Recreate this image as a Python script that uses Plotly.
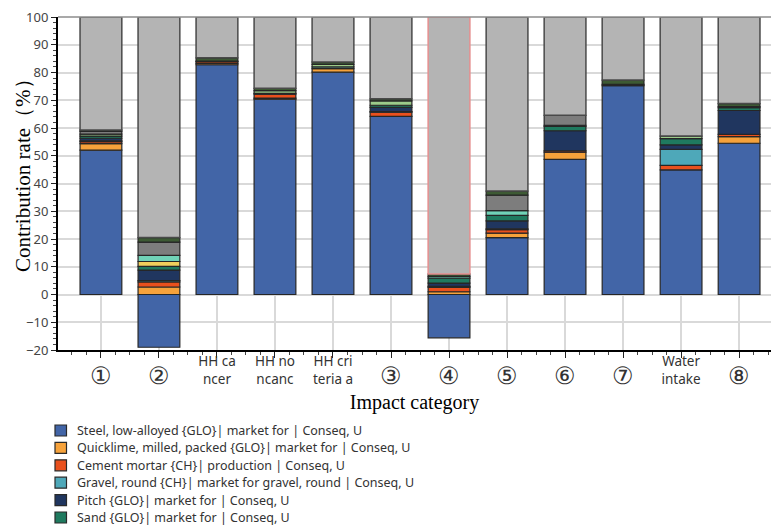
import plotly.graph_objects as go

# Impact categories (x axis)
categories = ["①", "②", "HH ca<br>ncer", "HH no<br>ncanc", "HH cri<br>teria a",
              "③", "④", "⑤", "⑥", "⑦", "Water<br>intake", "⑧"]

# Contribution rate (%) of each process to each impact category
steel      = [52.0, -19.0, 82.8, 70.4, 80.1, 64.2, -15.6, 20.5, 48.7, 75.3, 44.9, 54.5]
quicklime  = [2.4, 2.7, 0.5, 0.4, 1.3, 0.0, 1.0, 1.6, 2.6, 0.0, 0.0, 2.4]
cement     = [0.7, 1.8, 0.6, 1.4, 0.0, 1.5, 1.6, 1.3, 0.5, 0.4, 1.6, 0.8]
gravel     = [0.3, 0.5, 0.0, 0.0, 0.0, 0.2, 0.3, 0.3, 0.0, 0.0, 5.8, 0.0]
pitch      = [0.9, 3.8, 0.2, 0.3, 0.0, 1.5, 1.2, 2.8, 7.2, 0.0, 1.6, 8.6]
sand       = [0.8, 1.3, 0.0, 0.0, 0.0, 0.8, 1.8, 2.0, 1.6, 0.0, 2.3, 1.0]
other_yel  = [0.0, 1.8, 0.0, 0.0, 0.0, 0.0, 0.0, 0.0, 0.0, 0.0, 0.0, 0.0]
other_teal = [0.0, 2.2, 0.0, 0.0, 0.6, 0.0, 0.6, 1.7, 0.0, 0.0, 0.0, 0.4]
other_lgr  = [0.7, 0.0, 0.0, 1.0, 0.9, 1.6, 0.0, 0.0, 0.4, 0.0, 0.9, 0.0]
other_dgr  = [1.0, 4.8, 0.0, 0.0, 0.0, 0.0, 0.0, 5.6, 3.6, 0.0, 0.0, 0.0]
other_olv  = [0.5, 1.6, 1.2, 0.8, 0.9, 0.7, 0.9, 1.5, 0.0, 1.6, 0.0, 1.1]
remaining  = [40.7, 79.5, 14.7, 25.7, 16.2, 29.5, 92.6, 62.7, 35.4, 22.7, 42.9, 31.2]

series = [
    ("Steel, low-alloyed {GLO}| market for | Conseq, U", steel, "#4265a7", True),
    ("Quicklime, milled, packed {GLO}| market for | Conseq, U", quicklime, "#f6a23b", True),
    ("Cement mortar {CH}| production | Conseq, U", cement, "#e9501d", True),
    ("Gravel, round {CH}| market for gravel, round | Conseq, U", gravel, "#4ea8b9", True),
    ("Pitch {GLO}| market for | Conseq, U", pitch, "#20365f", True),
    ("Sand {GLO}| market for | Conseq, U", sand, "#1f7a5f", True),
    ("Other process (yellow)", other_yel, "#f1cf5c", False),
    ("Other process (light teal)", other_teal, "#70d2b7", False),
    ("Other process (light green)", other_lgr, "#9ccb8a", False),
    ("Other process (dark grey)", other_dgr, "#7d7d7d", False),
    ("Other process (olive)", other_olv, "#3d5a34", False),
]

x = list(range(len(categories)))

fig = go.Figure()
for name, vals, color, _ in series:
    fig.add_trace(go.Bar(
        x=x, y=[v if v else None for v in vals], name=name,
        marker=dict(color=color, line=dict(color="#262626", width=1.2)),
        showlegend=False,
    ))

# Remaining processes, the highlighted category is outlined in red
outline = ["#e58f8f" if c == "④" else "#4a4a4a" for c in categories]
fig.add_trace(go.Bar(
    x=x, y=remaining, name="Remaining processes",
    marker=dict(color="#b4b4b4", line=dict(color=outline, width=1.5)),
    showlegend=False,
))

# Circled category numbers sit on the second line so they are centred
# against the two-line text labels
ticktext = [
    f'<br><span style="font-size:24px">{c}</span>' if "<br>" not in c else c
    for c in categories
]

# Process key below the chart: swatch + label per listed process
PLOT_L, PLOT_R, PLOT_T, PLOT_B = 58, 771, 17, 350
def px_x(p):
    return (p - PLOT_L) / (PLOT_R - PLOT_L)
def px_y(p):
    return (PLOT_B - p) / (PLOT_B - PLOT_T)

shapes = [dict(type="line", xref="paper", yref="paper", x0=0, x1=1, y0=1, y1=1,
               line=dict(color="#8c8c8c", width=1.5))]
annotations = []
row_y0, row_step = 430.5, 17.4
for i, (name, _, color, listed) in enumerate(s for s in series if s[3]):
    cy = row_y0 + i * row_step
    shapes.append(dict(type="rect", xref="paper", yref="paper",
                       x0=px_x(55), x1=px_x(66.5), y0=px_y(cy - 5.5), y1=px_y(cy + 5.5),
                       fillcolor=color, line=dict(color="#2a2a2a", width=1.2)))
    annotations.append(dict(xref="paper", yref="paper", x=px_x(75), y=px_y(cy),
                            xanchor="left", yanchor="middle", showarrow=False,
                            text=name, font=dict(family="Noto Sans", size=12.5,
                                                 color="#333333")))

# Vertical axis title
annotations.append(dict(xref="paper", yref="paper", x=px_x(23), y=px_y(170),
                        xanchor="center", yanchor="middle", showarrow=False,
                        textangle=-90, text="Contribution rate（%）",
                        font=dict(family="Liberation Serif", size=21, color="black")))

fig.update_layout(
    width=771, height=526,
    margin=dict(l=PLOT_L, r=0, t=PLOT_T, b=526 - PLOT_B, autoexpand=False),
    barmode="relative", bargap=0.28,
    paper_bgcolor="white", plot_bgcolor="white",
    font=dict(family="Noto Sans", color="#333333"),
    showlegend=False,
    xaxis=dict(
        range=[-0.74, 11.55], tickmode="array", tickvals=x, ticktext=ticktext,
        tickfont=dict(size=13.5, color="#333333"), ticklabelstandoff=-8,
        showgrid=True, gridcolor="#d9d9d9", gridwidth=1.5,
        ticks="outside", ticklen=6, tickcolor="#222222",
        minor=dict(tickmode="linear", tick0=0, dtick=0.25, ticks="outside",
                   ticklen=3, tickcolor="#444444", showgrid=False),
        showline=True, linecolor="black", linewidth=2, zeroline=False,
        title=dict(text="Impact category", standoff=0,
                   font=dict(family="Liberation Serif", size=20, color="black")),
    ),
    yaxis=dict(
        range=[-20, 100], dtick=10, tickfont=dict(size=13, color="#444444"),
        showgrid=True, gridcolor="#d9d9d9", gridwidth=1.5,
        ticks="outside", ticklen=5, tickcolor="#222222",
        minor=dict(dtick=2, ticks="outside", ticklen=3, tickcolor="#444444",
                   showgrid=False),
        showline=True, linecolor="black", linewidth=2, zeroline=False,
    ),
    shapes=shapes,
    annotations=annotations,
)

fig.write_html("out.html")
